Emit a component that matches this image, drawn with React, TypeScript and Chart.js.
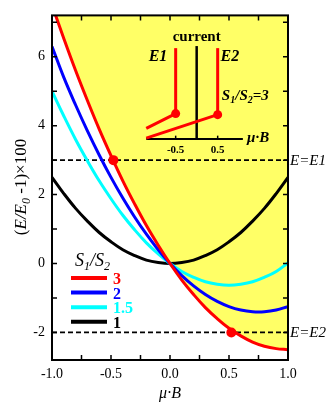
import React, { useEffect, useRef } from 'react';
import { Chart, registerables } from 'chart.js';
Chart.register(...registerables);

// ---- data ----
const X_VALUES = [-1.0, -0.9, -0.8, -0.7, -0.6, -0.5, -0.4, -0.3, -0.2, -0.1, 0, 0.1, 0.2, 0.3, 0.4, 0.5, 0.6, 0.7, 0.8, 0.9, 1.0];
const RATIO_3 = [7.5, 6.53, 5.6, 4.73, 3.9, 3.13, 2.4, 1.73, 1.1, 0.53, 0, -0.48, -0.9, -1.28, -1.6, -1.88, -2.1, -2.28, -2.4, -2.47, -2.5];
const RATIO_2 = [6.3, 5.4, 4.6, 3.85, 3.15, 2.5, 1.9, 1.35, 0.85, 0.4, 0, -0.35, -0.65, -0.9, -1.1, -1.25, -1.35, -1.4, -1.4, -1.35, -1.25];
const RATIO_15 = [5.0, 4.28, 3.6, 2.98, 2.4, 1.88, 1.4, 0.98, 0.6, 0.28, 0, -0.23, -0.4, -0.53, -0.6, -0.63, -0.6, -0.53, -0.4, -0.23, 0.02];
const RATIO_1 = [2.5, 2.03, 1.6, 1.23, 0.9, 0.63, 0.4, 0.23, 0.1, 0.03, 0, 0.03, 0.1, 0.23, 0.4, 0.63, 0.9, 1.23, 1.6, 2.03, 2.5];

const LEGEND_LABELS = ['3', '2', '1.5', '1'];
const SERIES_COLORS = ['#ff0000', '#0000ff', '#00ffff', '#000000'];
const X_TICKS = [-1, -0.5, 0, 0.5, 1];
const Y_TICKS = [-2, 0, 2, 4, 6];
const X_MINOR_STEP = 0.25;
const Y_MINOR_STEP = 1;
const E1_LEVEL = 3;
const E2_LEVEL = -2;
const CROSS_X = [-0.48, 0.52];
const CROSS_Y = [E1_LEVEL, E2_LEVEL];
const LEVEL_LABELS = ['E=E1', 'E=E2'];

const SERIF = '"Liberation Serif", "Times New Roman", serif';
const YELLOW = '#ffff66';

type Seg = { t: string; font: string; dy?: number };

function drawRich(ctx: CanvasRenderingContext2D, segs: Seg[], x: number, y: number, align: 'left' | 'center', color: string) {
  ctx.save();
  ctx.fillStyle = color;
  ctx.textAlign = 'left';
  ctx.textBaseline = 'alphabetic';
  let total = 0;
  for (const s of segs) {
    ctx.font = s.font;
    total += ctx.measureText(s.t).width;
  }
  let cx = align === 'center' ? x - total / 2 : x;
  for (const s of segs) {
    ctx.font = s.font;
    ctx.fillText(s.t, cx, y + (s.dy || 0));
    cx += ctx.measureText(s.t).width;
  }
  ctx.restore();
}

const decor = {
  id: 'decor',
  afterDraw(chart: any) {
    const ctx: CanvasRenderingContext2D = chart.ctx;
    const { left, right, top, bottom } = chart.chartArea;
    const xs = chart.scales.x;
    const ys = chart.scales.y;
    ctx.save();

    // box
    ctx.strokeStyle = '#000';
    ctx.lineWidth = 2;
    ctx.strokeRect(left, top, right - left, bottom - top);

    // inward ticks
    ctx.lineWidth = 1.5;
    ctx.beginPath();
    for (let v = -1 + X_MINOR_STEP; v < 1 - 1e-6; v += X_MINOR_STEP) {
      const px = xs.getPixelForValue(v);
      ctx.moveTo(px, bottom); ctx.lineTo(px, bottom - 5);
      ctx.moveTo(px, top); ctx.lineTo(px, top + 5);
    }
    for (let v = -2; v <= 7; v += Y_MINOR_STEP) {
      const py = ys.getPixelForValue(v);
      ctx.moveTo(left, py); ctx.lineTo(left + 5, py);
      ctx.moveTo(right, py); ctx.lineTo(right - 5, py);
    }
    ctx.stroke();

    // axis titles
    ctx.save();
    ctx.translate(20, 187);
    ctx.rotate(-Math.PI / 2);
    drawRich(ctx, [
      { t: '(', font: `17px ${SERIF}` },
      { t: 'E/E', font: `italic 17px ${SERIF}` },
      { t: '0', font: `italic 12px ${SERIF}`, dy: 4 },
      { t: ' -1)\u00d7100', font: `17px ${SERIF}` },
    ], 0, 6, 'center', '#000');
    ctx.restore();
    drawRich(ctx, [{ t: '\u03bc\u00b7B', font: `italic 16px ${SERIF}` }], (left + right) / 2, 398, 'center', '#000');

    // level labels
    for (let i = 0; i < LEVEL_LABELS.length; i++) {
      const py = ys.getPixelForValue(CROSS_Y[i]);
      drawRich(ctx, [{ t: LEVEL_LABELS[i], font: `italic 15px ${SERIF}` }], right + 2, py + 5, 'left', '#000');
    }

    // legend
    const lx = left + 19;
    drawRich(ctx, [
      { t: 'S', font: `italic 18px ${SERIF}` },
      { t: '1', font: `italic 12px ${SERIF}`, dy: 4 },
      { t: '/S', font: `italic 18px ${SERIF}` },
      { t: '2', font: `italic 12px ${SERIF}`, dy: 4 },
    ], lx + 4, 266, 'left', '#000');
    for (let i = 0; i < LEGEND_LABELS.length; i++) {
      const ly = 278 + i * 14.6;
      ctx.strokeStyle = SERIES_COLORS[i];
      ctx.lineWidth = 4;
      ctx.beginPath();
      ctx.moveTo(lx, ly); ctx.lineTo(lx + 36, ly);
      ctx.stroke();
      drawRich(ctx, [{ t: LEGEND_LABELS[i], font: `bold 16px ${SERIF}` }], lx + 42, ly + 6, 'left', SERIES_COLORS[i]);
    }

    // inset schematic (in main-axis units)
    const P = (ix: number, hy: number) => [xs.getPixelForValue(0.226 + ix * 0.356), ys.getPixelForValue(hy)];
    const line = (a: number[], b: number[], color: string, w: number) => {
      ctx.strokeStyle = color; ctx.lineWidth = w;
      ctx.beginPath(); ctx.moveTo(a[0], a[1]); ctx.lineTo(b[0], b[1]); ctx.stroke();
    };
    const dot = (p: number[]) => {
      ctx.fillStyle = '#ff0000';
      ctx.beginPath(); ctx.arc(p[0], p[1], 4.5, 0, Math.PI * 2); ctx.fill();
    };
    const axY = 3.61;
    line(P(-1.2, axY), P(1.1, axY), '#000', 2);
    line(P(-0.5, axY), P(-0.5, axY + 0.1), '#000', 1.5);
    line(P(0.5, axY), P(0.5, axY + 0.1), '#000', 1.5);
    line(P(0, axY), P(0, 6.31), '#000', 2.5);
    line(P(-0.5, 6.25), P(-0.5, 4.35), '#ff0000', 3);
    line(P(0.5, 6.25), P(0.5, 4.32), '#ff0000', 3);
    line(P(-1.2, 3.92), P(-0.5, 4.35), '#ff0000', 3);
    line(P(-1.2, 3.64), P(0.5, 4.32), '#ff0000', 3);
    dot(P(-0.5, 4.35));
    dot(P(0.5, 4.32));
    let p = P(0, 6.59);
    drawRich(ctx, [{ t: 'current', font: `bold 15px ${SERIF}` }], p[0], p[1] + 5, 'center', '#000');
    p = P(-0.92, 6.03);
    drawRich(ctx, [{ t: 'E1', font: `italic bold 16px ${SERIF}` }], p[0], p[1] + 5, 'center', '#000');
    p = P(0.79, 6.03);
    drawRich(ctx, [{ t: 'E2', font: `italic bold 16px ${SERIF}` }], p[0], p[1] + 5, 'center', '#000');
    p = P(0.6, 4.88);
    drawRich(ctx, [
      { t: 'S', font: `italic bold 15px ${SERIF}` },
      { t: '1', font: `italic bold 10px ${SERIF}`, dy: 3 },
      { t: '/S', font: `italic bold 15px ${SERIF}` },
      { t: '2', font: `italic bold 10px ${SERIF}`, dy: 3 },
      { t: '=3', font: `italic bold 15px ${SERIF}` },
    ], p[0], p[1] + 5, 'left', '#000');
    p = P(-0.5, 3.33);
    drawRich(ctx, [{ t: '-0.5', font: `bold 11px ${SERIF}` }], p[0], p[1] + 4, 'center', '#000');
    p = P(0.5, 3.33);
    drawRich(ctx, [{ t: '0.5', font: `bold 11px ${SERIF}` }], p[0], p[1] + 4, 'center', '#000');
    p = P(1.2, 3.67);
    drawRich(ctx, [{ t: '\u03bc\u00b7B', font: `italic bold 15px ${SERIF}` }], p[0], p[1] + 5, 'left', '#000');

    ctx.restore();
  },
};

export default function App() {
  const ref = useRef<HTMLCanvasElement>(null);
  useEffect(() => {
    if (!ref.current) return;
    const pts = (ys: number[]) => X_VALUES.map((x, i) => ({ x, y: ys[i] }));
    const curve = (ys: number[], color: string, extra: any = {}) => ({
      data: pts(ys), borderColor: color, borderWidth: 3, pointRadius: 0, tension: 0.4, fill: false, ...extra,
    });
    const chart = new Chart(ref.current, {
      type: 'line',
      data: {
        datasets: [
          { data: CROSS_X.map((x, i) => ({ x, y: CROSS_Y[i] })), showLine: false, pointRadius: 5, pointBackgroundColor: '#ff0000', pointBorderWidth: 0, borderColor: '#ff0000' },
          curve(RATIO_3, SERIES_COLORS[0], { fill: 'end', backgroundColor: YELLOW }),
          curve(RATIO_2, SERIES_COLORS[1]),
          curve(RATIO_15, SERIES_COLORS[2]),
          curve(RATIO_1, SERIES_COLORS[3]),
          { data: [{ x: -1, y: E1_LEVEL }, { x: 1, y: E1_LEVEL }], borderColor: '#000', borderWidth: 1.8, borderDash: [5, 3], pointRadius: 0 },
          { data: [{ x: -1, y: E2_LEVEL }, { x: 1, y: E2_LEVEL }], borderColor: '#000', borderWidth: 1.8, borderDash: [5, 3], pointRadius: 0 },
        ] as any,
      },
      options: {
        responsive: false,
        animation: false,
        layout: { padding: { top: 5, right: 44, left: 0, bottom: 0 } },
        plugins: { legend: { display: false }, tooltip: { enabled: false }, filler: { drawTime: 'beforeDatasetsDraw' } } as any,
        scales: {
          x: {
            type: 'linear', min: -1, max: 1,
            grid: { display: false, drawTicks: false },
            border: { display: false },
            afterBuildTicks: (s: any) => { s.ticks = X_TICKS.map((v) => ({ value: v })); },
            afterFit: (s: any) => { s.height = 52; },
            ticks: { color: '#000', font: { family: SERIF, size: 14 }, padding: 6, maxRotation: 0, autoSkip: false, callback: (v: any) => Number(v).toFixed(1) },
          },
          y: {
            type: 'linear', min: -2.8, max: 7.2,
            grid: { display: false, drawTicks: false },
            border: { display: false },
            afterBuildTicks: (s: any) => { s.ticks = Y_TICKS.map((v) => ({ value: v })); },
            afterFit: (s: any) => { s.width = 52; },
            ticks: { color: '#000', font: { family: SERIF, size: 14 }, padding: 7, autoSkip: false, callback: (v: any) => String(v) },
          },
        } as any,
      },
      plugins: [decor],
    });
    return () => chart.destroy();
  }, []);
  return (
    <div style={{ position: 'fixed', left: 0, top: 0, width: 332, height: 412, background: '#fff' }}>
      <canvas ref={ref} width={332} height={412} />
    </div>
  );
}
